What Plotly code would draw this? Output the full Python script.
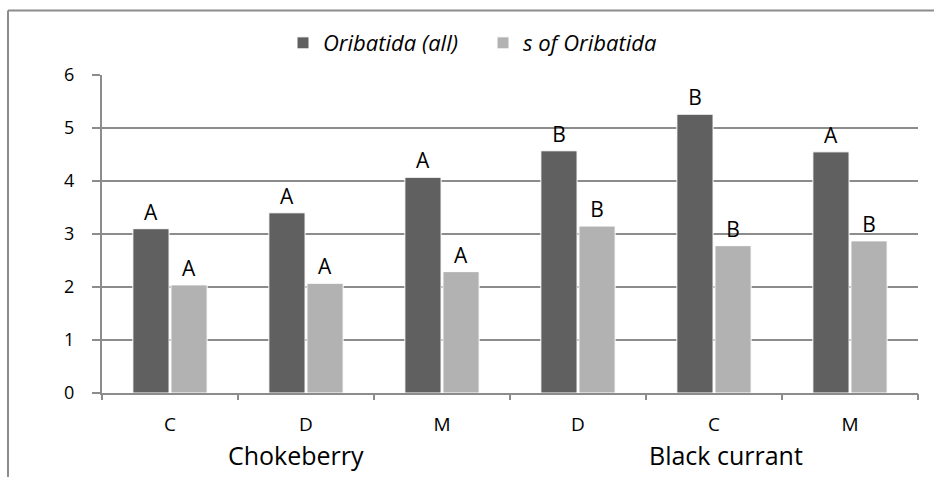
import plotly.graph_objects as go

categories = ["C", "D", "M", "D", "C", "M"]
groups = ["Chokeberry", "Black currant"]
oribatida_all = [3.10, 3.40, 4.07, 4.57, 5.26, 4.55]
s_oribatida = [2.04, 2.07, 2.29, 3.15, 2.78, 2.87]
labels_all = ["A", "A", "A", "B", "B", "A"]
labels_s = ["A", "A", "A", "B", "B", "B"]
y_ticks = [0, 1, 2, 3, 4, 5, 6]

xpos = list(range(len(categories)))
boundaries = [i - 0.5 for i in range(len(categories) + 1)]

W, H = 934, 477
ml, mr, mt, mb = 102, 16, 75, 83.5
pw, ph = W - ml - mr, H - mt - mb

def px2paper_x(px):
    return (px - ml) / pw

def px2paper_y(py):
    return (H - mb - py) / ph

font_family = "Open Sans, Liberation Sans, sans-serif"

fig = go.Figure()
fig.add_trace(go.Bar(
    x=xpos, y=oribatida_all, name="Oribatida (all)",
    marker=dict(color="#606060", line=dict(color="white", width=1)),
    text=labels_all, textposition="outside", cliponaxis=False,
    textfont=dict(size=21, color="black", family=font_family),
))
fig.add_trace(go.Bar(
    x=xpos, y=s_oribatida, name="s of Oribatida",
    marker=dict(color="#b2b2b2", line=dict(color="white", width=1)),
    text=labels_s, textposition="outside", cliponaxis=False,
    textfont=dict(size=21, color="black", family=font_family),
))
# invisible trace on second x-axis to carry boundary tick marks
fig.add_trace(go.Scatter(x=[boundaries[0], boundaries[-1]], y=[0, 0], xaxis="x2",
                         mode="lines", line=dict(width=0), showlegend=False, hoverinfo="skip"))

fig.update_layout(
    width=W, height=H,
    margin=dict(l=ml, r=mr, t=mt, b=mb, pad=0, autoexpand=False),
    paper_bgcolor="white", plot_bgcolor="white",
    barmode="group", bargap=0.44, bargroupgap=0.05,
    font=dict(family=font_family, size=17, color="black"),
    legend=dict(orientation="h", x=px2paper_x(283), xanchor="left",
                y=px2paper_y(43), yanchor="middle",
                font=dict(size=22, style="italic", family=font_family),
                itemwidth=30, entrywidth=155, entrywidthmode="pixels",
                bgcolor="rgba(0,0,0,0)"),
    xaxis=dict(range=[boundaries[0], boundaries[-1]], tickvals=xpos, ticktext=categories,
               showgrid=False, zeroline=False, showline=True, linecolor="#8c8c8c", linewidth=2,
               ticks="", ticklabelstandoff=13, tickfont=dict(size=19), automargin=False),
    xaxis2=dict(range=[boundaries[0], boundaries[-1]], overlaying="x", side="bottom",
                tickvals=boundaries, ticktext=[""] * len(boundaries), ticks="outside",
                ticklen=6, tickwidth=2, tickcolor="#8c8c8c", showgrid=False, zeroline=False,
                showline=False, automargin=False),
    yaxis=dict(range=[0, 6], tickvals=y_ticks, showgrid=True, gridcolor="#8c8c8c", gridwidth=2,
               zeroline=False, showline=True, linecolor="#8c8c8c", linewidth=2,
               ticks="outside", ticklen=8, tickwidth=2, tickcolor="#8c8c8c",
               ticklabelstandoff=14, tickfont=dict(size=18), automargin=False),
)

# group labels under the category axis
fig.add_annotation(x=1, y=px2paper_y(456), xref="x", yref="paper", text=groups[0],
                   xanchor="center", yanchor="middle",
                   showarrow=False, font=dict(size=25, family=font_family), xshift=-10)
fig.add_annotation(x=4, y=px2paper_y(456), xref="x", yref="paper", text=groups[1],
                   xanchor="center", yanchor="middle",
                   showarrow=False, font=dict(size=25, family=font_family), xshift=12)

# outer frame (top and left edges)
frame = dict(color="#8c8c8c", width=2)
fig.add_shape(type="line", xref="paper", yref="paper",
              x0=px2paper_x(8), x1=px2paper_x(940), y0=px2paper_y(10.5), y1=px2paper_y(10.5), line=frame)
fig.add_shape(type="line", xref="paper", yref="paper",
              x0=px2paper_x(8), x1=px2paper_x(8), y0=px2paper_y(10.5), y1=px2paper_y(480), line=frame)

fig.write_html("out.html", config={"displayModeBar": False},
               post_script="document.body.style.margin='0';document.body.style.overflow='hidden';")
